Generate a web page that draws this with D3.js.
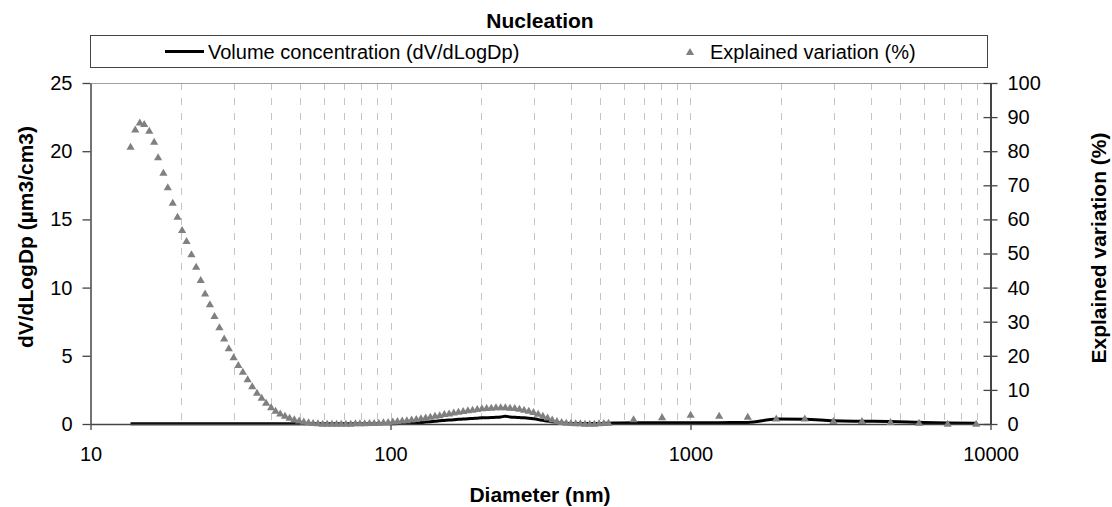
<!DOCTYPE html>
<html>
<head>
<meta charset="utf-8">
<script src="https://cdn.jsdelivr.net/npm/d3@7"></script>
<style>
  html, body { margin: 0; padding: 0; background: #fff; }
  svg { display: block; font-family: "Liberation Sans", Arial, sans-serif; }
</style>
</head>
<body>
<svg id="chart" width="1112" height="507"></svg>
<script>
// ---- data ----
const chartTitle = "Nucleation";
const xTickValues = [10, 100, 1000, 10000];
const leftTickValues = [0, 5, 10, 15, 20, 25];
const rightTickValues = [0, 10, 20, 30, 40, 50, 60, 70, 80, 90, 100];
const gridValues = [20,30,40,50,60,70,80,90,100,200,300,400,500,600,700,800,900,1000,2000,3000,4000,5000,6000,7000,8000,9000];

// particle diameters (nm): SMPS bins, then optical bins
const diameters = [
  13.6, 14.1, 14.6, 15.1, 15.7, 16.3, 16.8, 17.5, 18.1, 18.8, 19.5, 20.2, 20.9, 21.7, 22.5, 23.3, 24.1,
  25.0, 25.9, 26.9, 27.9, 28.9, 30.0, 31.1, 32.2, 33.4, 34.6, 35.9, 37.2, 38.5, 40.0, 41.4, 42.9, 44.5,
  46.1, 47.8, 49.6, 51.4, 53.3, 55.2, 57.3, 59.4, 61.5, 63.8, 66.1, 68.5, 71.0, 73.7, 76.4, 79.1, 82.0,
  85.1, 88.2, 91.4, 94.7, 98.2, 101.8, 105.5, 109.4, 113.4, 117.6, 121.9, 126.3, 131.0, 135.8, 140.7,
  145.9, 151.2, 156.8, 162.5, 168.5, 174.7, 181.1, 187.7, 194.6, 201.7, 209.1, 216.7, 224.7, 232.9,
  241.4, 250.3, 259.5, 269.0, 278.8, 289.0, 299.6, 310.6, 322.0, 333.8, 346.0, 358.7, 371.8, 385.4,
  399.5, 414.2, 429.4, 445.1, 461.4, 478.3, 495.8, 514.0, 532.8,
  646, 804, 1001, 1246, 1552, 1932, 2405, 2995, 3729, 4643, 5781, 7198, 8962
];

// Volume concentration dV/dLogDp (µm3/cm3), left axis
const volumeConc = [
  0.01, 0.01, 0.01, 0.01, 0.01, 0.01, 0.01, 0.01, 0.01, 0.01, 0.01, 0.01, 0.01, 0.01, 0.01, 0.01, 0.01,
  0.01, 0.01, 0.01, 0.01, 0.01, 0.01, 0.01, 0.01, 0.01, 0.01, 0.01, 0.01, 0.01, 0.01, 0.01, 0.01, 0.01,
  0.01, 0.01, 0.01, 0.01, 0.01, 0.01, 0.01, 0.01, 0.01, 0.01, 0.01, 0.01, 0.01, 0.01, 0.01, 0.01, 0.01,
  0.01, 0.01, 0.01, 0.01, 0.02, 0.02, 0.03, 0.04, 0.05, 0.07, 0.09, 0.11, 0.14, 0.17, 0.20,
  0.23, 0.26, 0.29, 0.31, 0.34, 0.36, 0.39, 0.41, 0.43, 0.45, 0.46, 0.47, 0.49, 0.52,
  0.57, 0.52, 0.49, 0.47, 0.45, 0.42, 0.38, 0.33, 0.27, 0.22, 0.16, 0.11, 0.08, 0.05,
  0.04, 0.03, 0.03, 0.03, 0.03, 0.03, 0.04, 0.05, 0.06,
  0.10, 0.10, 0.10, 0.10, 0.11, 0.36, 0.35, 0.23, 0.20, 0.18, 0.12, 0.07, 0.05
];

// Explained variation (%), right axis
const explainedVar = [
  81.3, 86.4, 88.4, 88.0, 86.0, 82.8, 78.2, 73.7, 69.4, 64.9, 60.8, 56.9, 53.7, 49.8, 46.1, 42.2, 38.3,
  35.1, 31.7, 28.4, 25.1, 22.2, 19.6, 17.3, 15.3, 13.1, 11.1, 9.2, 7.7, 6.2, 4.9, 3.9, 3.1, 2.4,
  1.8, 1.4, 1.0, 0.7, 0.5, 0.3, 0.2, 0.1, 0.1, 0.1, 0.1, 0.1, 0.1, 0.1, 0.2, 0.2, 0.2,
  0.3, 0.3, 0.4, 0.5, 0.6, 0.7, 0.9, 1.0, 1.1, 1.3, 1.5, 1.7, 1.9, 2.1, 2.4,
  2.6, 2.9, 3.1, 3.4, 3.6, 3.8, 4.0, 4.2, 4.4, 4.6, 4.7, 4.8, 4.9, 4.9,
  4.9, 4.8, 4.7, 4.5, 4.2, 3.9, 3.5, 3.0, 2.4, 1.9, 1.3, 0.9, 0.6, 0.4,
  0.3, 0.2, 0.2, 0.1, 0.1, 0.1, 0.2, 0.3, 0.4,
  1.4, 2.0, 2.7, 2.4, 2.1, 1.6, 1.6, 0.9, 0.9, 0.6, 0.4, 0.1, 0.1
];

const seriesNames = ["Volume concentration (dV/dLogDp)", "Explained variation (%)"];
const xTitle = "Diameter (nm)";
const leftTitle = "dV/dLogDp (µm3/cm3)";
const rightTitle = "Explained variation (%)";

// ---- layout ----
const svg = d3.select("#chart");
const L = 90.5, R = 990.5, T = 83, B = 424;

const x = d3.scaleLog().domain([10, 10000]).range([L, R]);
const yL = d3.scaleLinear().domain([0, 25]).range([B, T]);
const yR = d3.scaleLinear().domain([0, 100]).range([B, T]);

// gridlines
svg.append("g").selectAll("line").data(gridValues).join("line")
  .attr("x1", d => Math.round(x(d)) + 0.5).attr("x2", d => Math.round(x(d)) + 0.5)
  .attr("y1", T).attr("y2", B)
  .attr("stroke", "#c4c4c4").attr("stroke-width", 1)
  .attr("stroke-dasharray", "7,8");

// plot top border
svg.append("line").attr("x1", L).attr("x2", R).attr("y1", T + 0.5).attr("y2", T + 0.5)
  .attr("stroke", "#a0a0a0").attr("stroke-width", 1);

// volume concentration line
const pts = diameters.map((d, i) => ({d, v: volumeConc[i], e: explainedVar[i]}));
svg.append("path").datum(pts)
  .attr("fill", "none").attr("stroke", "#000").attr("stroke-width", 3)
  .attr("stroke-linejoin", "round")
  .attr("d", d3.line().x(p => x(p.d)).y(p => yL(p.v)).curve(d3.curveMonotoneX));

// axes
const fontSize = 20;
const gx = svg.append("g").attr("transform", `translate(0,${B})`)
  .call(d3.axisBottom(x).tickValues(xTickValues).tickFormat(d3.format("d")).tickSize(6).tickPadding(17).tickSizeOuter(0));
const gl = svg.append("g").attr("transform", `translate(${L},0)`)
  .call(d3.axisLeft(yL).tickValues(leftTickValues).tickSize(8).tickPadding(10).tickSizeOuter(0));
const gr = svg.append("g").attr("transform", `translate(${R},0)`)
  .call(d3.axisRight(yR).tickValues(rightTickValues).tickSize(7).tickPadding(10).tickSizeOuter(0));
gr.selectAll(".tick line").attr("x1", -7).attr("x2", 7);

[gx, gl, gr].forEach(g => {
  g.selectAll("text").attr("font-size", fontSize).attr("fill", "#000")
    .attr("font-family", "Liberation Sans, Arial, sans-serif");
  g.selectAll("line").attr("stroke", "#444").attr("stroke-width", 1.3);
  g.select(".domain").attr("stroke", "#444").attr("stroke-width", 1.5);
});
gr.select(".domain").attr("stroke-width", 2);

// explained variation markers (on top)
const tri = "M0,-4L4.1,3L-4.1,3Z";
svg.append("g").selectAll("path").data(pts).join("path")
  .attr("d", tri)
  .attr("transform", p => `translate(${x(p.d)},${yR(p.e)})`)
  .attr("fill", "#808080");

// titles
svg.append("text").attr("x", 540).attr("y", 20).attr("text-anchor", "middle")
  .attr("dominant-baseline", "central").attr("font-weight", "bold").attr("font-size", 21)
  .text(chartTitle);
svg.append("text").attr("x", 540).attr("y", 494).attr("text-anchor", "middle")
  .attr("dominant-baseline", "central").attr("font-weight", "bold").attr("font-size", 21)
  .text(xTitle);
svg.append("text").attr("transform", "translate(25,237) rotate(-90)").attr("text-anchor", "middle")
  .attr("dominant-baseline", "central").attr("font-weight", "bold").attr("font-size", 21)
  .text(leftTitle);
svg.append("text").attr("transform", "translate(1098,248) rotate(-90)").attr("text-anchor", "middle")
  .attr("dominant-baseline", "central").attr("font-weight", "bold").attr("font-size", 21)
  .text(rightTitle);

// legend
const lg = svg.append("g");
const legY = 51;
lg.append("rect").attr("x", 90.5).attr("y", 35.5).attr("width", 897).attr("height", 32)
  .attr("fill", "#fff").attr("stroke", "#444").attr("stroke-width", 1);
lg.append("line").attr("x1", 165).attr("x2", 204).attr("y1", legY + 0.5).attr("y2", legY + 0.5)
  .attr("stroke", "#000").attr("stroke-width", 3);
lg.append("text").attr("x", 208).attr("y", legY + 0.5).attr("dominant-baseline", "central")
  .attr("font-size", fontSize).text(seriesNames[0]);
lg.append("path").attr("d", tri).attr("transform", `translate(690,${legY + 1})`).attr("fill", "#808080");
lg.append("text").attr("x", 710).attr("y", legY + 0.5).attr("dominant-baseline", "central")
  .attr("font-size", fontSize).text(seriesNames[1]);
</script>
</body>
</html>
